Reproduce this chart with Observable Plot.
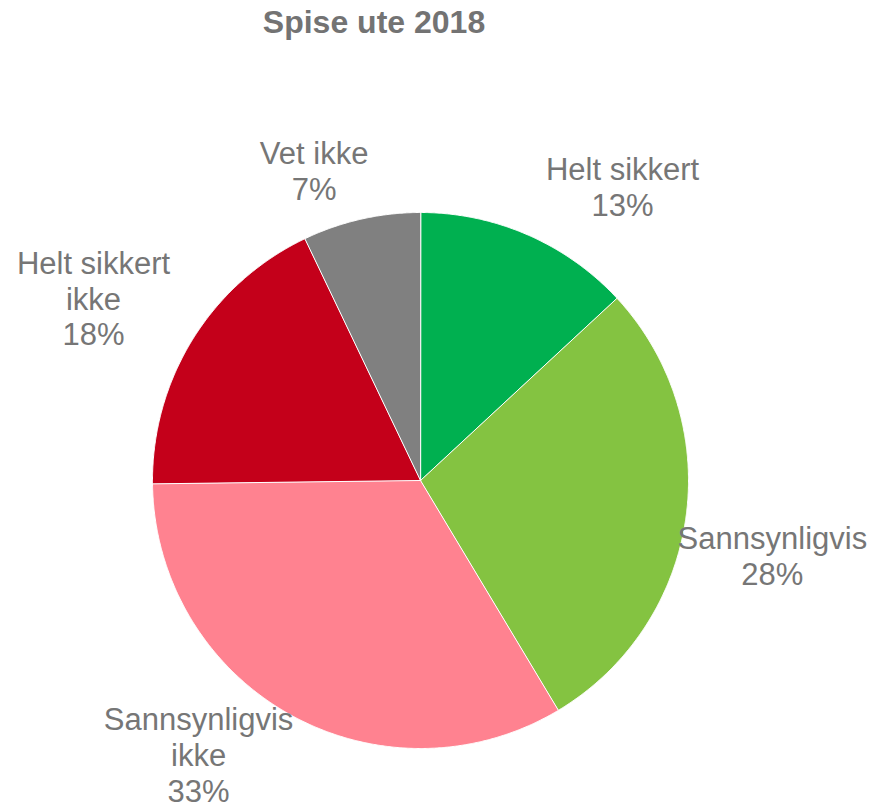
<!DOCTYPE html>
<html>
<head>
<meta charset="utf-8">
<script src="https://cdn.jsdelivr.net/npm/d3@7"></script>
<script src="https://cdn.jsdelivr.net/npm/@observablehq/plot@0.6"></script>
<style>
  html, body { margin: 0; padding: 0; background: #fff; }
  #wrap { position: relative; width: 875px; height: 804px; }
  #title { position: absolute; left: 0; top: 6px; width: 748px; text-align: center;
           font-family: "Liberation Sans", Arial, sans-serif; font-weight: bold;
           font-size: 32px; line-height: 32px; color: #737373; }
</style>
</head>
<body>
<div id="wrap">
  <div id="title">Spise ute 2018</div>
</div>
<script>
// Data
const categories = ["Helt sikkert", "Sannsynligvis", "Sannsynligvis ikke", "Helt sikkert ikke", "Vet ikke"];
const values = [13.1, 28.3, 33.4, 18.1, 7.1];
const percentLabels = ["13%", "28%", "33%", "18%", "7%"];
const labelLines = ["Helt sikkert", "Sannsynligvis", "Sannsynligvis\nikke", "Helt sikkert\nikke", "Vet ikke"];

// Styles / layout
const colors = ["#00B050", "#84C341", "#FF8290", "#C4001A", "#808080"];
const labelPos = [[0.754, 1.096], [1.313, -0.281], [-0.828, -1.022], [-1.220, 0.681], [-0.397, 1.155]];

const pie = d3.pie().sort(null).value(d => d)(values);
const slicePts = [];
pie.forEach((p, i) => {
  slicePts.push({cat: categories[i], x: 0, y: 0});
  const n = Math.max(2, Math.ceil((p.endAngle - p.startAngle) / (Math.PI / 720)));
  for (let k = 0; k <= n; k++) {
    const a = p.startAngle + (p.endAngle - p.startAngle) * k / n;
    slicePts.push({cat: categories[i], x: Math.sin(a), y: Math.cos(a)});
  }
});

const labels = categories.map((c, i) => ({
  text: labelLines[i] + "\n" + percentLabels[i],
  x: labelPos[i][0], y: labelPos[i][1]
}));

const chart = Plot.plot({
  width: 875,
  height: 804,
  margin: 0,
  x: {domain: [-1, 1], range: [152, 688], axis: null},
  y: {domain: [-1, 1], range: [748, 212], axis: null},
  color: {domain: categories, range: colors},
  style: {background: "transparent"},
  marks: [
    Plot.line(slicePts, {x: "x", y: "y", z: "cat", fill: "cat", stroke: "#ffffff", strokeWidth: 1, curve: "linear-closed", strokeLinejoin: "round"}),
    Plot.text(labels, {x: "x", y: "y", text: "text", fontSize: 31, lineHeight: 1.16, fill: "#767676",
      fontFamily: "Liberation Sans, Arial, sans-serif", textAnchor: "middle", lineAnchor: "middle"})
  ]
});
document.getElementById("wrap").appendChild(chart);
</script>
</body>
</html>
